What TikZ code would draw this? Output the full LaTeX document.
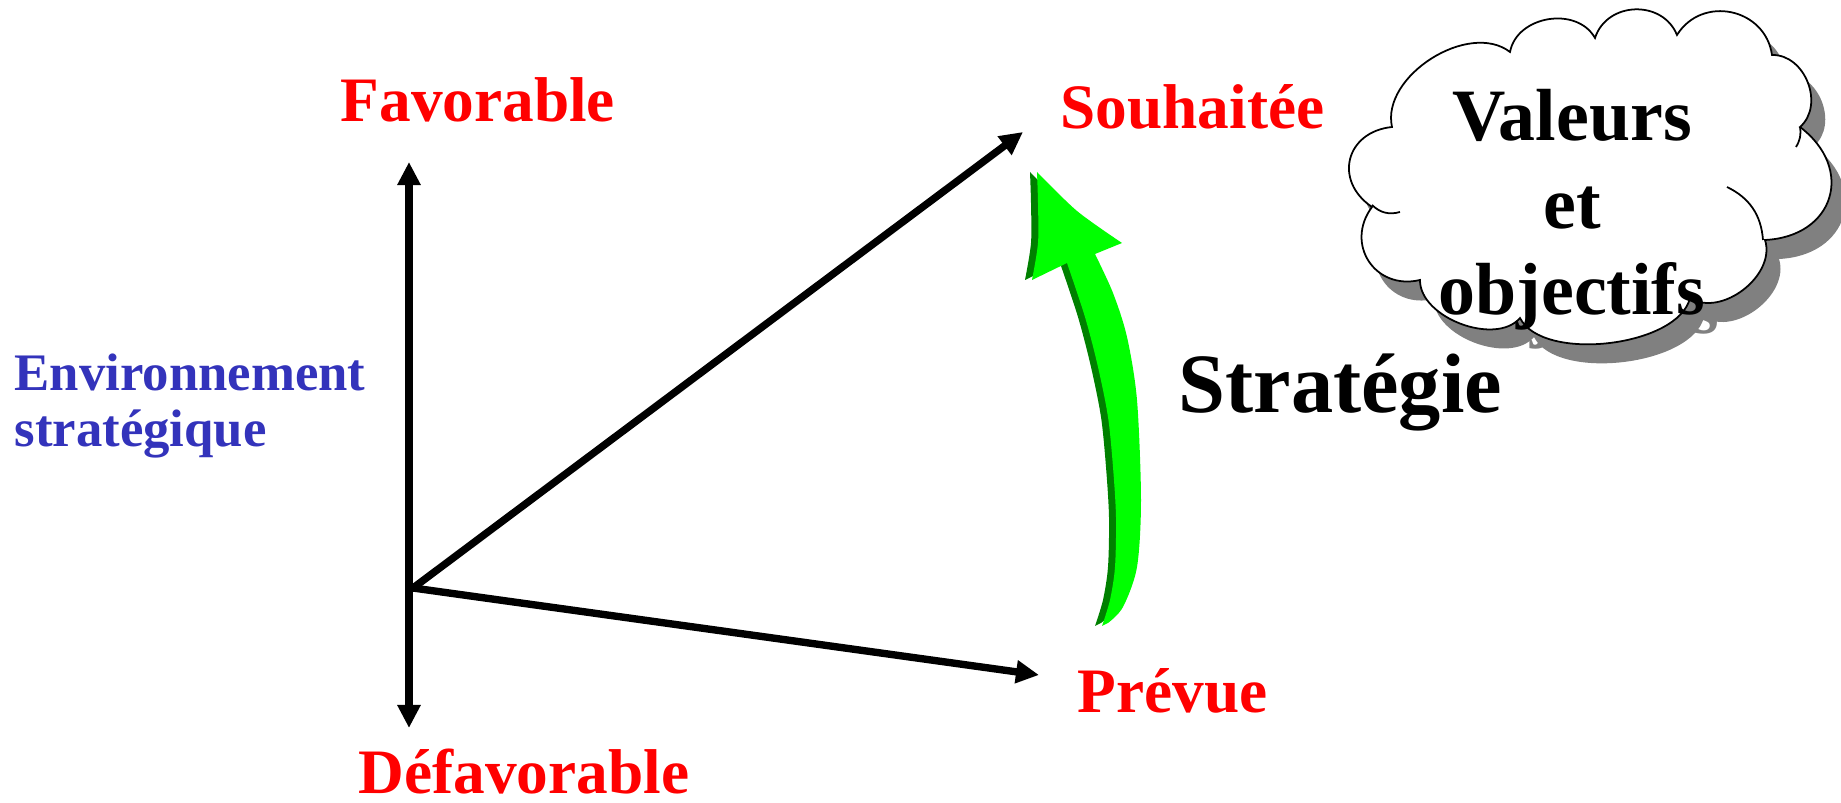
\documentclass[tikz,border=0pt]{standalone}
\usepackage{fontspec}
\setmainfont{Liberation Serif}
\usepackage{tikz}
\usetikzlibrary{arrows.meta}

\definecolor{labelred}{RGB}{255,0,0}
\definecolor{envblue}{RGB}{51,51,187}
\definecolor{brightgreen}{RGB}{0,255,0}
\definecolor{darkgreen}{RGB}{0,128,0}
\definecolor{shadowgray}{RGB}{128,128,128}

% outline of the cloud (puffs clockwise from the left)
\newcommand{\cloudpath}{(1392,676) to[puff=0.95] (1510,751) to[puff=1.1] (1595,765)
  to[puff=1.2] (1677,768) to[puff=1.25] (1772,748) to[puff=1.1] (1800,676)
  to[puff=1.5] (1765,563) to[puff=1.0] (1690,505) to[puff=0.75] (1520,485)
  to[puff=0.9] (1420,523) to[puff=1.35] (1372,596) to[puff=1.45] (1392,676) -- cycle}

% outline of the curved green arrow
\newcommand{\strategyarrow}{(1037,631) -- plot[smooth] coordinates {(1037,631) (1077,592) (1122,560)}
  -- (1095,549) -- plot[smooth] coordinates {(1095,549) (1113,510) (1127,466) (1137,403) (1141,303) (1137,236) (1123,196) (1108,180)}
  -- (1102,177) -- plot[smooth] coordinates {(1102,177) (1110,203) (1115,236) (1116,286) (1113,336) (1108,386) (1098,436) (1085,486) (1067,540)}
  -- (1032,523) -- plot[smooth] coordinates {(1032,523) (1038,560) (1038,600) (1037,631)} -- cycle}

\begin{document}
\begin{tikzpicture}[x=0.01cm, y=0.01cm,
  every node/.style={inner sep=0pt, font=\bfseries},
  puff/.style={bend left=70, looseness=#1},
  vec/.style={line width=2.1pt, -{Triangle[length=0.23cm, width=0.22cm]}},
  pole/.style={labelred, font=\fontsize{18}{21}\selectfont\bfseries}]
\useasboundingbox (0,0) rectangle (1841,803);

% end points of the arrows
\coordinate (origin) at (413,215);
\coordinate (favtip) at (409,641);
\coordinate (defavtip) at (409,75);
\coordinate (souhtip) at (1023,671);
\coordinate (prevtip) at (1039,128);

% labels
\node[pole, anchor=base west] (fav) at (340,681) {Favorable};
\node[pole, anchor=base west] (defav) at (358,9) {Défavorable};
\node[pole, anchor=base west] (souh) at (1060,674) {Souhaitée};
\node[pole, anchor=base west] (prev) at (1077,90) {Prévue};
\node[envblue, anchor=north west, align=left, font=\fontsize{15}{16}\selectfont\bfseries] (env) at (14,450) {Environnement\\stratégique};
\node[anchor=base west, font=\fontsize{24}{28}\selectfont\bfseries] (strat) at (1178,390) {Stratégie};

% arrows
\draw[vec, {Triangle[length=0.23cm, width=0.22cm]}-{Triangle[length=0.23cm, width=0.22cm]}] (favtip) -- (defavtip);
\draw[vec] (origin) -- (souhtip);
\draw[vec] (origin) -- (prevtip);

% green arrow with its dark side
\fill[darkgreen, shift={(-7,0)}] \strategyarrow;
\fill[brightgreen] \strategyarrow;

% cloud with shadow
\begin{scope}[shift={(14,-19)}]
  \fill[shadowgray] \cloudpath;
  \node[shadowgray, anchor=base, font=\fontsize{21}{25}\selectfont\bfseries] (objshadow) at (1572,488) {objectifs};
\end{scope}
\filldraw[fill=white, draw=black, line width=0.5pt] \cloudpath;
\draw[line width=0.5pt] (1727,616) to[bend left=30] (1763,563);
\draw[line width=0.5pt] (1372,598) to[bend right=30] (1400,591);
\draw[line width=0.5pt] (1800,676) to[bend left=20] (1796,656);
\node[anchor=base, font=\fontsize{21}{25}\selectfont\bfseries] (val) at (1572,662) {Valeurs};
\node[anchor=base, font=\fontsize{21}{25}\selectfont\bfseries] (et) at (1572,574) {et};
\node[anchor=base, font=\fontsize{21}{25}\selectfont\bfseries] (obj) at (1572,488) {objectifs};
\end{tikzpicture}
\end{document}
